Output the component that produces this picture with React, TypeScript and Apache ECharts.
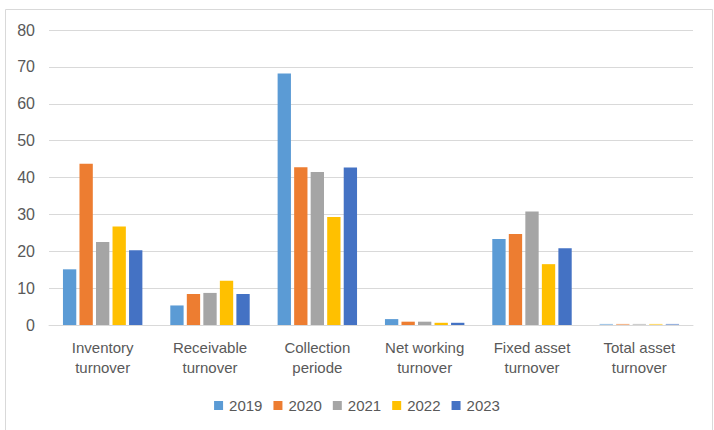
import React, { useEffect, useRef } from "react";
import * as echarts from "echarts";

const categories = [
  "Inventory\nturnover",
  "Receivable\nturnover",
  "Collection\nperiode",
  "Net working\nturnover",
  "Fixed asset\nturnover",
  "Total asset\nturnover",
];
const years = ["2019", "2020", "2021", "2022", "2023"];
const v2019 = [15.1, 5.3, 68.2, 1.6, 23.3, 0.3];
const v2020 = [43.7, 8.4, 42.8, 0.9, 24.7, 0.3];
const v2021 = [22.5, 8.7, 41.5, 0.9, 30.8, 0.3];
const v2022 = [26.7, 12.0, 29.3, 0.6, 16.5, 0.3];
const v2023 = [20.3, 8.4, 42.7, 0.6, 20.8, 0.3];
const seriesValues = [v2019, v2020, v2021, v2022, v2023];
const colors = ["#5B9BD5", "#ED7D31", "#A5A5A5", "#FFC000", "#4472C4"];
const yTicks = [0, 10, 20, 30, 40, 50, 60, 70, 80];

const FONT = "'Liberation Sans', Arial, sans-serif";

export default function App() {
  const ref = useRef<HTMLDivElement>(null);
  useEffect(() => {
    if (!ref.current) return;
    const chart = echarts.init(ref.current, undefined, { renderer: "svg" });
    chart.setOption({
      animation: false,
      backgroundColor: "#ffffff",
      textStyle: { fontFamily: FONT },
      graphic: [
        {
          type: "rect",
          shape: { x: 5.5, y: 9.5, width: 707, height: 440 },
          style: { fill: "none", stroke: "#d9d9d9", lineWidth: 1 },
          silent: true,
        },
      ],
      legend: {
        data: years,
        left: "center",
        top: 393,
        itemWidth: 9,
        itemHeight: 9,
        itemGap: 11,
        icon: "rect",
        textStyle: { fontFamily: FONT, fontSize: 15, color: "#595959", padding: [0, 0, 0, 1] },
      },
      grid: { left: 49, right: 21, top: 30, bottom: 105, containLabel: false },
      xAxis: {
        type: "category",
        data: categories,
        axisLine: { show: true, lineStyle: { color: "#d9d9d9" } },
        axisTick: { show: false },
        axisLabel: {
          interval: 0,
          margin: 12,
          fontFamily: FONT,
          fontSize: 15,
          lineHeight: 20,
          color: "#595959",
        },
      },
      yAxis: {
        type: "value",
        min: yTicks[0],
        max: yTicks[yTicks.length - 1],
        interval: 10,
        axisLine: { show: false },
        axisTick: { show: false },
        splitLine: { lineStyle: { color: "#d9d9d9", width: 1 } },
        axisLabel: { fontFamily: FONT, fontSize: 16, color: "#595959", margin: 14 },
      },
      series: years.map((y, si) => ({
        name: y,
        type: "bar",
        barGap: "24%",
        barCategoryGap: "26%",
        itemStyle: { color: colors[si] },
        data: seriesValues[si].map((v, i) =>
          i === 5 ? { value: v, itemStyle: { opacity: 0.55 } } : v
        ),
      })),
    });
    return () => chart.dispose();
  }, []);
  return (
    <div
      ref={ref}
      style={{ position: "fixed", left: 0, top: 0, width: 714, height: 430 }}
    />
  );
}
